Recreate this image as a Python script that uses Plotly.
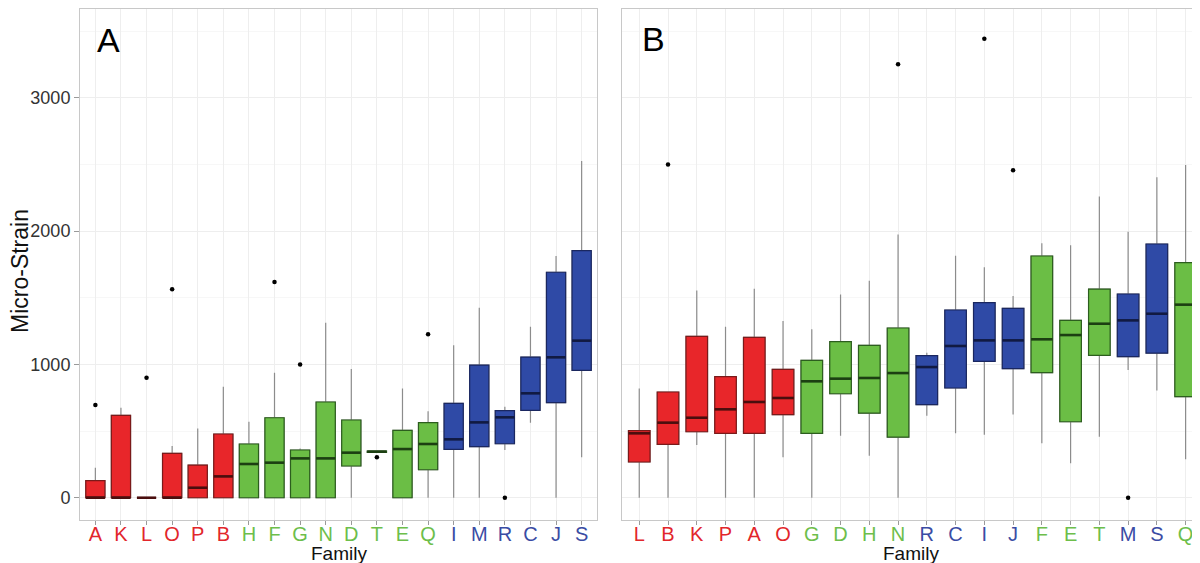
import plotly.graph_objects as go

# ---------------- data ----------------
A_cats  = ["A","K","L","O","P","B","H","F","G","N","D","T","E","Q","I","M","R","C","J","S"]
A_group = ["r","r","r","r","r","r","g","g","g","g","g","g","g","g","b","b","b","b","b","b"]
A_low   = [0,   0,   0,   0,   0,   0,   0,   0,   0,   0,   0,   340, 0,   0,   0,   0,   358, 563, 0,    303]
A_q1    = [0,   0,   0,   0,   0,   0,   0,   0,   0,   0,   238, 340, 0,   210, 363, 383, 405, 655, 713,  955]
A_med   = [0,   0,   0,   0,   75,  160, 253, 263, 295, 295, 338, 345, 365, 403, 438, 565, 603, 783, 1053, 1178]
A_q3    = [128, 618, 0,   333, 245, 478, 403, 600, 358, 718, 583, 350, 505, 563, 708, 995, 653, 1055,1691, 1853]
A_high  = [225, 675, 0,   388, 520, 833, 570, 938, 370, 1313,965, 350, 820, 648, 1143,1425,683, 1283,1812, 2526]
A_out_cat = ["A", "L", "O",  "F",  "G",  "T", "Q",  "R"]
A_out_val = [695, 900, 1563, 1618, 1000, 303, 1226, 0]

B_cats  = ["L","B","K","P","A","O","G","D","H","N","R","C","I","J","F","E","T","M","S","Q"]
B_group = ["r","r","r","r","r","r","g","g","g","g","b","b","b","b","g","g","g","b","b","g"]
B_low   = [0,   0,   395, 0,   0,    303, 0,    465, 315, 0,    615, 483, 473, 625, 408, 258, 458, 958, 805, 288]
B_q1    = [268, 400, 495, 483, 483,  623, 483,  780, 635, 455,  698, 823, 1023,968, 938, 570, 1068,1058,1085,758]
B_med   = [483, 563, 600, 663, 718,  748, 873,  893, 898, 935,  980, 1138,1180,1180,1188,1220,1305,1330,1380,1448]
B_q3    = [503, 793, 1210,908, 1203, 963, 1030, 1170,1143,1273, 1065,1408,1463,1420,1813,1330,1565,1528,1903,1763]
B_high  = [820, 793, 1555,1283,1568, 1325,1263, 1525,1628,1975, 1088,1815,1728,1513,1908,1893,2260,1995,2403,2496]
B_out_cat = ["B",  "N",  "I",  "J",  "M"]
B_out_val = [2500, 3251, 3443, 2456, 0]

y_ticks = [0, 1000, 2000, 3000]

# ---------------- styles ----------------
FILL    = {"r": "#E8262A", "g": "#6BBE45", "b": "#2F4AA6"}
EDGE    = {"r": "#7A1A1A", "g": "#2C5E1E", "b": "#1A2760"}
MEDIAN  = {"r": "#4A0E0E", "g": "#1C3F12", "b": "#111A42"}
TICKCOL = {"r": "#E2262B", "g": "#6DBE4B", "b": "#3A4CA4"}
WHISK   = "#8C8C8C"
FONT    = "Liberation Sans, Arial, Helvetica, sans-serif"

# page body has an 8px default margin -> figure is drawn offset by 8px
OFF = 8
W, H = 1200 - OFF, 563 - OFF
def px(x):
    return (x - OFF) / W
def py(y):
    return 1 - (y - OFF) / H

fig = go.Figure()

def add_panel(cats, groups, low, q1, med, q3, high, ocat, oval, xa, ya, med_px):
    for g in ["r", "g", "b"]:
        idx = [i for i, gg in enumerate(groups) if gg == g]
        if not idx:
            continue
        xs = [cats[i] for i in idx]
        # whisker layer (grey)
        fig.add_trace(go.Box(
            x=xs, q1=[q1[i] for i in idx], median=[med[i] for i in idx],
            q3=[q3[i] for i in idx], lowerfence=[low[i] for i in idx],
            upperfence=[high[i] for i in idx],
            boxpoints=False, whiskerwidth=0, width=0.75,
            fillcolor="rgba(0,0,0,0)", line=dict(color=WHISK, width=1.2),
            xaxis=xa, yaxis=ya, showlegend=False, hoverinfo="skip"))
        # box layer (coloured)
        fig.add_trace(go.Box(
            x=xs, q1=[q1[i] for i in idx], median=[med[i] for i in idx],
            q3=[q3[i] for i in idx], lowerfence=[q1[i] for i in idx],
            upperfence=[q3[i] for i in idx],
            boxpoints=False, whiskerwidth=0, width=0.75,
            fillcolor=FILL[g], line=dict(color=EDGE[g], width=1.2),
            xaxis=xa, yaxis=ya, showlegend=False, hoverinfo="skip"))
        # thick median
        fig.add_trace(go.Scatter(
            x=xs, y=[med[i] for i in idx], mode="markers",
            marker=dict(symbol="line-ew", size=med_px / 1.4,
                        line=dict(color=MEDIAN[g], width=2.6)),
            xaxis=xa, yaxis=ya, showlegend=False, hoverinfo="skip"))
    fig.add_trace(go.Scatter(
        x=ocat, y=oval, mode="markers",
        marker=dict(color="black", size=4.5),
        xaxis=xa, yaxis=ya, showlegend=False, hoverinfo="skip"))

add_panel(A_cats, A_group, A_low, A_q1, A_med, A_q3, A_high, A_out_cat, A_out_val, "x", "y", 19.2)
add_panel(B_cats, B_group, B_low, B_q1, B_med, B_q3, B_high, B_out_cat, B_out_val, "x2", "y2", 21.6)

def ticktext(cats, groups):
    return ['<span style="color:%s">%s</span>' % (TICKCOL[g], c) for c, g in zip(cats, groups)]

YD = [py(520), py(9.3)]
YR = [-167, 3663]

common_x = dict(type="category", showgrid=True, gridcolor="#EEEEEE", gridwidth=1,
                zeroline=False, ticks="outside", ticklen=4, tickcolor="#9A9A9A",
                ticklabelstandoff=-8,
                tickfont=dict(family=FONT, size=20), showline=True, linecolor="#C8C8C8",
                linewidth=1)
common_y = dict(range=YR, tickvals=y_ticks, showgrid=True, gridcolor="#EEEEEE", gridwidth=1,
                zeroline=False, showline=True, linecolor="#C8C8C8", linewidth=1,
                minor=dict(dtick=500, tick0=0, showgrid=True, gridcolor="#F7F7F7", ticks=""))

fig.update_layout(
    width=W, height=H,
    margin=dict(l=0, r=0, t=0, b=0),
    paper_bgcolor="white", plot_bgcolor="white",
    boxmode="overlay",
    font=dict(family=FONT, color="#222222"),
    xaxis=dict(domain=[px(80), px(597)], categoryorder="array", categoryarray=A_cats,
               tickvals=A_cats, ticktext=ticktext(A_cats, A_group), range=[-0.6, 19.6],
               mirror=True, anchor="y", **common_x),
    yaxis=dict(domain=YD, anchor="x", mirror=True, ticks="outside", ticklen=5,
               tickcolor="#9A9A9A", tickfont=dict(family=FONT, size=18, color="#333333"),
               **common_y),
    xaxis2=dict(domain=[px(622), 1.0], categoryorder="array", categoryarray=B_cats,
                tickvals=B_cats, ticktext=ticktext(B_cats, B_group), range=[-0.6, 19.5],
                mirror=True, anchor="y2", **common_x),
    yaxis2=dict(domain=YD, anchor="x2", mirror=False, showticklabels=False, ticks="",
                **common_y),
    annotations=[
        dict(text="A", x=px(95), y=py(40), xref="paper", yref="paper",
             xanchor="left", yanchor="middle", showarrow=False,
             font=dict(family=FONT, size=34, color="black")),
        dict(text="B", x=px(640), y=py(39), xref="paper", yref="paper",
             xanchor="left", yanchor="middle", showarrow=False,
             font=dict(family=FONT, size=34, color="black")),
        dict(text="Micro-Strain", x=px(20), y=py(271), xref="paper", yref="paper",
             xanchor="center", yanchor="middle", textangle=-90, showarrow=False,
             font=dict(family=FONT, size=23, color="#111111")),
        dict(text="Family", x=px(338.5), y=py(553), xref="paper", yref="paper",
             xanchor="center", yanchor="middle", showarrow=False,
             font=dict(family=FONT, size=19, color="#111111")),
        dict(text="Family", x=px(911), y=py(553), xref="paper", yref="paper",
             xanchor="center", yanchor="middle", showarrow=False,
             font=dict(family=FONT, size=19, color="#111111")),
    ],
)

fig.write_html("out.html")
